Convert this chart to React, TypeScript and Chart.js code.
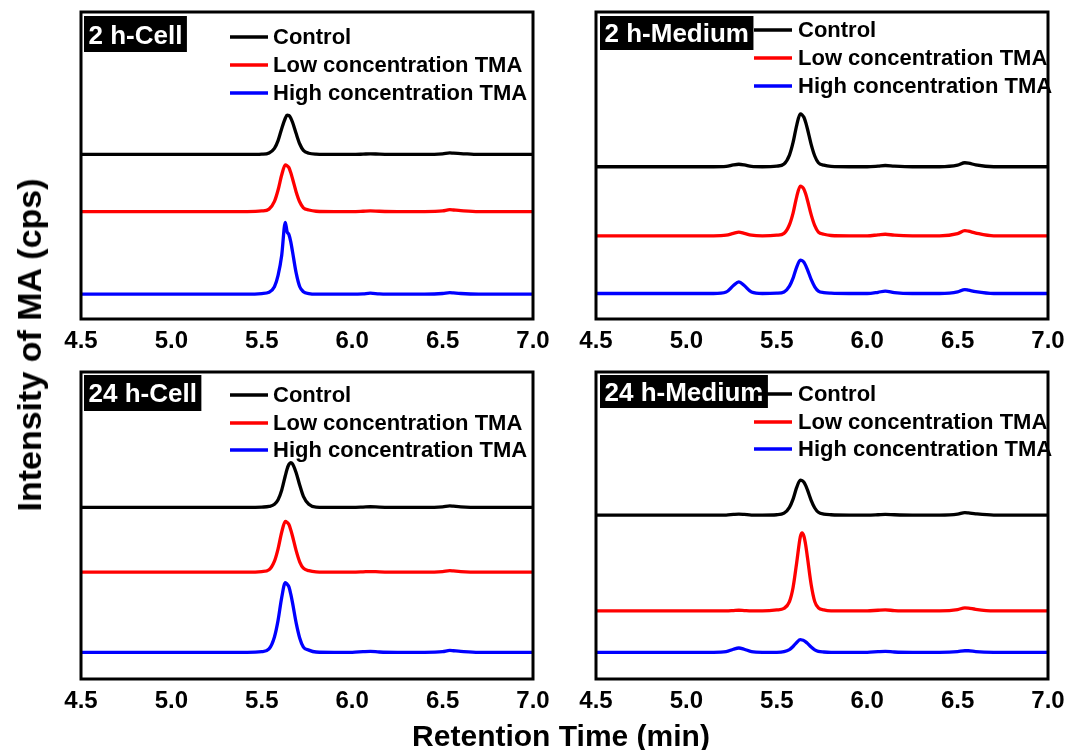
import React, { useEffect, useRef } from "react";
import { Chart, registerables } from "chart.js";

Chart.register(...registerables);

const FONT = '"Liberation Sans", Arial, Helvetica, sans-serif';

// Retention time grid (min)
const T = [4.5, 4.9, 5.15, 5.22, 5.26, 5.29, 5.32, 5.36, 5.42, 5.5, 5.54, 5.57, 5.59, 5.61, 5.63, 5.64, 5.65, 5.66, 5.67, 5.69, 5.71, 5.73, 5.76, 5.8, 5.9, 6.0, 6.06, 6.1, 6.15, 6.25, 6.4, 6.5, 6.54, 6.56, 6.6, 6.7, 6.9, 7.0];

const X_TICKS = [4.5, 5.0, 5.5, 6.0, 6.5, 7.0];

const SERIES_NAMES = ["Control", "Low concentration TMA", "High concentration TMA"];
const SERIES_COLORS = ["#000000", "#ff0000", "#0000ff"];

// 2 h-Cell (stacked intensity, arbitrary units)
const cell2Control = [53.6, 53.6, 53.6, 53.6, 53.6, 53.6, 53.6, 53.6, 53.6, 53.7, 54.1, 55.6, 58.1, 62.0, 65.4, 66.4, 66.3, 65.5, 64.1, 60.4, 57.0, 54.9, 54.0, 53.7, 53.6, 53.6, 53.7, 53.8, 53.7, 53.6, 53.6, 53.8, 54.1, 54.0, 53.9, 53.6, 53.6, 53.6];
const cell2Low = [35.0, 35.0, 35.0, 35.0, 35.0, 35.0, 35.0, 35.0, 35.0, 35.2, 35.8, 38.3, 42.0, 46.9, 50.2, 49.9, 49.3, 47.7, 45.7, 41.4, 38.1, 36.2, 35.5, 35.1, 35.0, 35.0, 35.1, 35.2, 35.1, 35.0, 35.0, 35.2, 35.6, 35.5, 35.3, 35.0, 35.0, 35.0];
const cell2High = [8.1, 8.1, 8.1, 8.1, 8.1, 8.1, 8.1, 8.1, 8.1, 8.3, 8.7, 10.5, 14.2, 20.7, 31.5, 28.4, 27.5, 25.2, 21.9, 15.0, 10.5, 8.9, 8.3, 8.1, 8.1, 8.1, 8.2, 8.4, 8.2, 8.1, 8.1, 8.3, 8.6, 8.5, 8.3, 8.1, 8.1, 8.1];

// 2 h-Medium
const medium2Control = [49.6, 49.6, 49.6, 49.7, 50.2, 50.4, 50.2, 49.7, 49.6, 49.8, 50.5, 53.4, 57.5, 63.1, 66.8, 66.5, 65.7, 64.0, 61.8, 56.9, 53.1, 50.9, 50.1, 49.7, 49.6, 49.6, 49.8, 50.0, 49.8, 49.6, 49.6, 50.1, 50.9, 50.8, 50.2, 49.6, 49.6, 49.6];
const medium2Low = [27.1, 27.1, 27.1, 27.3, 27.9, 28.3, 27.9, 27.3, 27.1, 27.3, 27.9, 30.7, 34.5, 39.8, 43.3, 43.0, 42.3, 40.7, 38.6, 34.0, 30.4, 28.3, 27.6, 27.2, 27.1, 27.1, 27.4, 27.6, 27.3, 27.1, 27.1, 27.8, 28.8, 28.6, 28.0, 27.1, 27.1, 27.1];
const medium2High = [8.3, 8.3, 8.3, 8.8, 10.9, 12.1, 10.9, 8.8, 8.3, 8.4, 8.8, 10.7, 13.3, 16.9, 19.2, 19.0, 18.5, 17.4, 16.0, 12.9, 10.5, 9.1, 8.6, 8.4, 8.3, 8.3, 8.7, 9.1, 8.6, 8.3, 8.3, 8.8, 9.6, 9.4, 8.9, 8.3, 8.3, 8.3];

// 24 h-Cell
const cell24Control = [55.9, 55.9, 55.9, 55.9, 55.9, 55.9, 55.9, 55.9, 55.9, 56.0, 56.2, 56.9, 58.4, 61.5, 66.2, 68.4, 69.9, 70.5, 70.1, 67.2, 63.1, 59.5, 56.9, 56.0, 55.9, 55.9, 56.0, 56.1, 56.0, 55.9, 55.9, 56.1, 56.4, 56.3, 56.1, 55.9, 55.9, 55.9];
const cell24Low = [34.8, 34.8, 34.8, 34.8, 34.8, 34.8, 34.8, 34.8, 34.8, 35.0, 35.6, 38.4, 42.4, 47.8, 51.3, 51.0, 50.3, 48.6, 46.5, 41.8, 38.1, 36.1, 35.3, 34.9, 34.8, 34.8, 34.9, 35.0, 34.9, 34.8, 34.8, 35.0, 35.3, 35.2, 35.0, 34.8, 34.8, 34.8];
const cell24High = [8.7, 8.7, 8.7, 8.7, 8.7, 8.7, 8.7, 8.7, 8.7, 8.9, 9.8, 13.7, 19.1, 26.5, 31.4, 30.9, 30.0, 27.7, 24.8, 18.3, 13.3, 10.4, 9.4, 8.8, 8.7, 8.7, 8.9, 9.0, 8.8, 8.7, 8.7, 8.9, 9.3, 9.2, 9.0, 8.7, 8.7, 8.7];

// 24 h-Medium
const medium24Control = [53.4, 53.4, 53.4, 53.4, 53.6, 53.7, 53.6, 53.4, 53.4, 53.5, 54.0, 55.9, 58.6, 62.4, 64.8, 64.6, 64.1, 63.0, 61.5, 58.2, 55.7, 54.3, 53.7, 53.5, 53.4, 53.4, 53.5, 53.6, 53.5, 53.4, 53.4, 53.7, 54.2, 54.1, 53.8, 53.4, 53.4, 53.4];
const medium24Low = [22.2, 22.2, 22.2, 22.2, 22.3, 22.4, 22.3, 22.2, 22.2, 22.5, 23.0, 25.2, 29.8, 37.9, 46.3, 47.6, 46.5, 43.6, 39.4, 30.8, 25.2, 23.2, 22.5, 22.2, 22.2, 22.2, 22.4, 22.5, 22.3, 22.2, 22.2, 22.6, 23.2, 23.1, 22.7, 22.2, 22.2, 22.2];
const medium24High = [8.7, 8.7, 8.7, 8.9, 9.7, 10.1, 9.7, 8.9, 8.7, 8.7, 8.9, 9.6, 10.6, 11.9, 12.8, 12.7, 12.5, 12.1, 11.6, 10.4, 9.5, 9.0, 8.8, 8.7, 8.7, 8.7, 8.9, 9.0, 8.8, 8.7, 8.7, 8.9, 9.2, 9.2, 8.9, 8.7, 8.7, 8.7];

const PANEL_TITLES = ["2 h-Cell", "2 h-Medium", "24 h-Cell", "24 h-Medium"];

const PAD_L = 45;
const PAD_R = 45;
const PAD_T = 12;
const AX_H = 50;

type PanelLayout = {
  x: number; y: number; w: number; h: number;
  legLineX: number; legTextX: number; legRows: number[];
  boxDx: number; boxDy: number; boxH: number; textBase: number;
};

const LAYOUTS: PanelLayout[] = [
  { x: 81, y: 12, w: 452, h: 307, legLineX: 149, legTextX: 192, legRows: [25, 53, 81], boxDx: 3, boxDy: 4, boxH: 36, textBase: 32 },
  { x: 596, y: 12, w: 452, h: 307, legLineX: 158, legTextX: 202, legRows: [18, 46, 74], boxDx: 4, boxDy: 4, boxH: 34, textBase: 30 },
  { x: 81, y: 372, w: 452, h: 307, legLineX: 149, legTextX: 192, legRows: [23, 51, 78], boxDx: 3, boxDy: 3, boxH: 36, textBase: 30 },
  { x: 596, y: 372, w: 452, h: 307, legLineX: 158, legTextX: 202, legRows: [22, 50, 77], boxDx: 4, boxDy: 3, boxH: 33, textBase: 29 },
];

const PANEL_DATA = [
  [cell2Control, cell2Low, cell2High],
  [medium2Control, medium2Low, medium2High],
  [cell24Control, cell24Low, cell24High],
  [medium24Control, medium24Low, medium24High],
];

function Panel({ idx }: { idx: number }) {
  const ref = useRef<HTMLCanvasElement | null>(null);
  const L = LAYOUTS[idx];
  useEffect(() => {
    if (!ref.current) return;
    const overlay = {
      id: "overlay" + idx,
      afterDatasetsDraw(chart: any) {
        const { ctx, chartArea } = chart;
        const { left, top, right, bottom } = chartArea;
        ctx.save();
        // frame
        ctx.strokeStyle = "#000";
        ctx.lineWidth = 3;
        ctx.strokeRect(left, top, right - left, bottom - top);
        // title box
        ctx.font = `bold 26px ${FONT}`;
        const title = PANEL_TITLES[idx];
        const tw = ctx.measureText(title).width;
        ctx.fillStyle = "#000";
        ctx.fillRect(left + L.boxDx, top + L.boxDy, tw + 9, L.boxH);
        ctx.fillStyle = "#fff";
        ctx.textBaseline = "alphabetic";
        ctx.textAlign = "left";
        ctx.fillText(title, left + L.boxDx + 4.5, top + L.textBase);
        // legend
        ctx.font = `bold 22px ${FONT}`;
        ctx.textBaseline = "middle";
        SERIES_NAMES.forEach((name, i) => {
          const yy = top + L.legRows[i];
          ctx.strokeStyle = SERIES_COLORS[i];
          ctx.lineWidth = 3.5;
          ctx.beginPath();
          ctx.moveTo(left + L.legLineX, yy);
          ctx.lineTo(left + L.legLineX + 38, yy);
          ctx.stroke();
          ctx.fillStyle = "#000";
          ctx.fillText(name, left + L.legTextX, yy + 1);
        });
        ctx.restore();
      },
    };
    const chart = new Chart(ref.current, {
      type: "line",
      data: {
        datasets: PANEL_DATA[idx].map((vals, i) => ({
          label: SERIES_NAMES[i],
          data: T.map((t, j) => ({ x: t, y: vals[j] })),
          borderColor: SERIES_COLORS[i],
          backgroundColor: SERIES_COLORS[i],
          borderWidth: 3.3,
          pointRadius: 0,
          cubicInterpolationMode: "monotone",
          fill: false,
        })),
      },
      options: {
        animation: false,
        responsive: false,
        devicePixelRatio: 1,
        layout: { padding: { left: PAD_L, right: PAD_R, top: PAD_T, bottom: 0 } },
        plugins: { legend: { display: false }, tooltip: { enabled: false } },
        scales: {
          x: {
            type: "linear",
            min: 4.5,
            max: 7.0,
            grid: { display: false, drawTicks: false },
            border: { display: false },
            afterBuildTicks: (scale: any) => {
              scale.ticks = X_TICKS.map((v) => ({ value: v }));
            },
            afterFit: (scale: any) => {
              scale.height = AX_H;
            },
            ticks: {
              autoSkip: false,
              maxRotation: 0,
              padding: 8,
              color: "#000",
              font: { family: FONT, size: 24, weight: "bold" },
              callback: (v: any) => Number(v).toFixed(1),
            },
          },
          y: { display: false, min: 0, max: 100 },
        },
      } as any,
      plugins: [overlay],
    });
    return () => chart.destroy();
  }, [idx]);
  return (
    <canvas
      ref={ref}
      width={L.w + PAD_L + PAD_R}
      height={L.h + PAD_T + AX_H}
      style={{ position: "absolute", left: L.x - PAD_L, top: L.y - PAD_T, width: L.w + PAD_L + PAD_R, height: L.h + PAD_T + AX_H }}
    />
  );
}

export default function App() {
  return (
    <div style={{ position: "absolute", left: 0, top: 0, width: 1067, height: 750, background: "#fff", overflow: "hidden" }}>
      {[0, 1, 2, 3].map((i) => (
        <Panel key={i} idx={i} />
      ))}
      <div
        style={{
          position: "absolute",
          left: 561,
          top: 721,
          transform: "translateX(-50%)",
          font: `bold 30px ${FONT}`,
          lineHeight: "30px",
          whiteSpace: "nowrap",
          color: "#000",
        }}
      >
        Retention Time (min)
      </div>
      <div
        style={{
          position: "absolute",
          left: 29,
          top: 345,
          transform: "translate(-50%, -50%) rotate(-90deg)",
          font: `bold 34px ${FONT}`,
          lineHeight: "34px",
          whiteSpace: "nowrap",
          color: "#000",
        }}
      >
        Intensity of MA (cps)
      </div>
    </div>
  );
}
